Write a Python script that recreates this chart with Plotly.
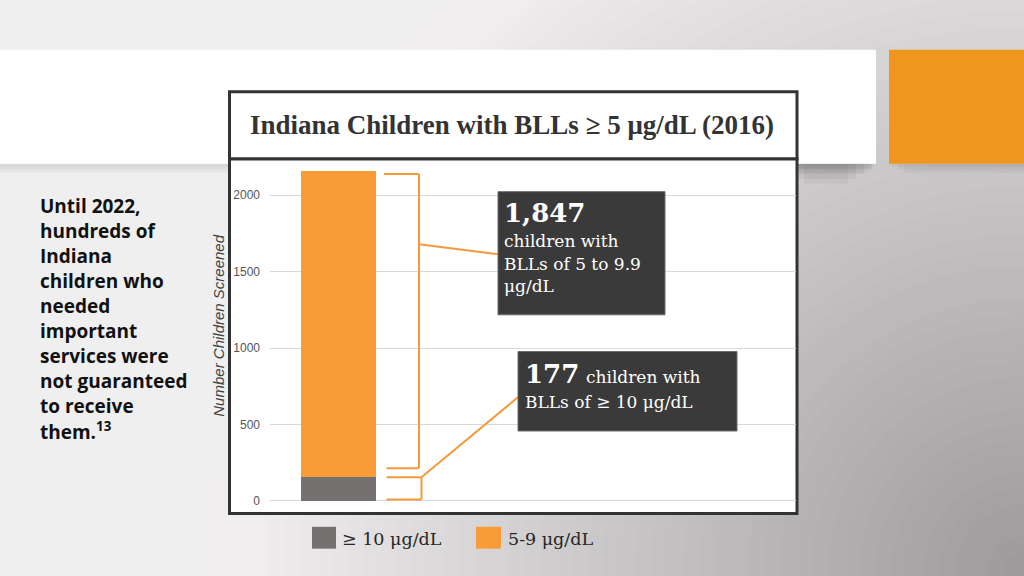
import plotly.graph_objects as go

# ---------------- data ----------------
categories = ["2016"]
blls_10_plus = [155]      # >= 10 ug/dL (grey segment)
blls_5_9 = [2000]         # 5-9 ug/dL (orange segment)
y_ticks = [0, 500, 1000, 1500, 2000]
series_names = ["≥ 10 μg/dL", "5-9 μg/dL"]
callout_5_9 = "1,847"
callout_10 = "177"
left_lines = ["Until 2022,", "hundreds of", "Indiana", "children who", "needed",
              "important", "services were", "not guaranteed", "to receive",
              "them.<sup>13</sup>"]

# ---------------- geometry helpers ----------------
W, H = 1024, 576
def px(x):
    return x / W
def py(y):
    return 1 - y / H

Y0 = 504.5      # pixel row of value 0
K = 0.154       # pixels per unit
def vpx(v):
    return Y0 - v * K

GREY = "#767171"
ORANGE = "#F99B36"
BRACKET = "#F59A3A"
DARK = "#3b3a3a"
SERIF = "DejaVu Serif"

fig = go.Figure()
fig.add_trace(go.Bar(x=categories, y=blls_10_plus, name=series_names[0],
                     marker=dict(color=GREY, line=dict(width=0)), width=1))
fig.add_trace(go.Bar(x=categories, y=blls_5_9, name=series_names[1],
                     marker=dict(color=ORANGE, line=dict(width=0)), width=1))

shapes = []
# radial background gradient (dark at bottom right)
cx, cy = 1024, 576
r = 820
step = 16
while r > 0:
    c = min(239, 155 + 0.108 * (r - step / 2))
    col = "rgb(%d,%d,%d)" % (round(c + 1), round(c - 1), round(c - 1))
    shapes.append(dict(type="circle", xref="paper", yref="paper", layer="below",
                       x0=px(cx - r), x1=px(cx + r), y0=py(cy + r), y1=py(cy - r),
                       fillcolor=col, line=dict(width=0)))
    r -= step

# shadow under white band
for i, a in enumerate([0.03, 0.03, 0.03]):
    shapes.append(dict(type="rect", xref="paper", yref="paper", layer="below",
                       x0=px(0), x1=px(874 - i * 3), y0=py(165 + 3 + i * 3), y1=py(165),
                       fillcolor="rgba(0,0,0,%.2f)" % a, line=dict(width=0)))
for i, a in enumerate([0.06, 0.06, 0.05, 0.04]):
    shapes.append(dict(type="rect", xref="paper", yref="paper", layer="below",
                       x0=px(780 + i * 8), x1=px(872 - i * 8), y0=py(165 + 5 + i * 5), y1=py(165),
                       fillcolor="rgba(0,0,0,%.2f)" % a, line=dict(width=0)))
for i, a in enumerate([0.04, 0.04, 0.03]):
    shapes.append(dict(type="rect", xref="paper", yref="paper", layer="below",
                       x0=px(892 + i * 6), x1=px(1024), y0=py(165 + 3 + i * 3), y1=py(165),
                       fillcolor="rgba(0,0,0,%.2f)" % a, line=dict(width=0)))
# white band + orange square
shapes.append(dict(type="rect", xref="paper", yref="paper", layer="below",
                   x0=px(0), x1=px(876), y0=py(165), y1=py(50),
                   fillcolor="white", line=dict(width=0)))
shapes.append(dict(type="rect", xref="paper", yref="paper", layer="below",
                   x0=px(889), x1=px(1024), y0=py(165), y1=py(50),
                   fillcolor="#EF961C", line=dict(width=0)))
# title box and chart box
shapes.append(dict(type="rect", xref="paper", yref="paper", layer="below",
                   x0=px(229.5), x1=px(797), y0=py(160), y1=py(92.5),
                   fillcolor="white", line=dict(color="#333333", width=3)))
shapes.append(dict(type="rect", xref="paper", yref="paper", layer="below",
                   x0=px(229.5), x1=px(797), y0=py(517), y1=py(160),
                   fillcolor="white", line=dict(color="#333333", width=3)))

# brackets (positions follow the bar values)
total = blls_10_plus[0] + blls_5_9[0]
up_top = vpx(total) + 2.5
up_bot = vpx(blls_10_plus[0]) - 9
lo_top = vpx(blls_10_plus[0])
lo_bot = vpx(0) - 1.5
def seg(x0, y0, x1, y1):
    shapes.append(dict(type="line", xref="paper", yref="paper", layer="above",
                       x0=px(x0), y0=py(y0), x1=px(x1), y1=py(y1),
                       line=dict(color=BRACKET, width=2)))
seg(384, up_top, 419, up_top)
seg(419, up_top, 419, up_bot)
seg(386.5, up_bot, 419, up_bot)
seg(386.5, lo_top, 421.5, lo_top)
seg(421.5, lo_top, 421.5, lo_bot)
seg(386.5, lo_bot, 421.5, lo_bot)
seg(419, 246, 498, 256)
seg(421.5, lo_top, 518, 400)

# callout boxes
shapes.append(dict(type="rect", xref="paper", yref="paper", layer="above",
                   x0=px(498), x1=px(665), y0=py(317), y1=py(193),
                   fillcolor=DARK, line=dict(color="#6a6a6a", width=1)))
shapes.append(dict(type="rect", xref="paper", yref="paper", layer="above",
                   x0=px(518), x1=px(737), y0=py(434), y1=py(354),
                   fillcolor=DARK, line=dict(color="#6a6a6a", width=1)))
# legend swatches
shapes.append(dict(type="rect", xref="paper", yref="paper", layer="above",
                   x0=px(312), x1=px(336), y0=py(552.5), y1=py(530.5),
                   fillcolor=GREY, line=dict(width=0)))
shapes.append(dict(type="rect", xref="paper", yref="paper", layer="above",
                   x0=px(476), x1=px(501), y0=py(552.5), y1=py(530.5),
                   fillcolor=ORANGE, line=dict(width=0)))

ann = []
def text(x, baseline, s, size, family, color, ascent=0.338, anchor="left", angle=0, style="normal"):
    ann.append(dict(x=px(x), y=py(baseline - ascent * size), xref="paper", yref="paper",
                    text=s, showarrow=False, xanchor=anchor, yanchor="middle",
                    textangle=angle, borderpad=0, borderwidth=0,
                    font=dict(size=size, family=family, color=color, style=style)))

# title
text(512, 135, "<b>Indiana Children with BLLs ≥ 5 μg/dL (2016)</b>", 27,
     "Liberation Serif", "#333333", anchor="center")
# left paragraph
for i, line in enumerate(left_lines):
    text(40, 215 + i * 25.2, "<b>%s</b>" % line, 19, "Open Sans", "#111111", ascent=0.389)
# callout 1
text(504, 223, "<b>%s</b>" % callout_5_9, 26, SERIF, "white", ascent=0.346)
text(504, 249, "children with", 17, SERIF, "white", ascent=0.346)
text(504, 272, "BLLs of 5 to 9.9", 17, SERIF, "white", ascent=0.346)
text(504, 293.5, "μg/dL", 17, SERIF, "white", ascent=0.346)
# callout 2
text(525, 385.5, "<b>%s</b>" % callout_10, 26, SERIF, "white", ascent=0.346)
text(586, 385.5, "children with", 17, SERIF, "white", ascent=0.346)
text(525, 411, "BLLs of ≥ 10 μg/dL", 17, SERIF, "white", ascent=0.346)
# legend text
text(342, 549, series_names[0], 17.5, SERIF, "#262626", ascent=0.346)
text(508, 549, series_names[1], 17.5, SERIF, "#262626", ascent=0.346)
# y-axis title
ann.append(dict(x=px(219), y=py(328), xref="paper", yref="paper",
                text="Number Children Screened", showarrow=False, textangle=-90,
                xanchor="center", yanchor="middle",
                font=dict(size=15, family="Liberation Sans", color="#404040", style="italic")))

x_left = -(338.7 - 270) / 75
fig.update_layout(
    width=W, height=H,
    margin=dict(l=0, r=0, t=0, b=0),
    paper_bgcolor="#efefef",
    plot_bgcolor="rgba(0,0,0,0)",
    barmode="stack",
    showlegend=False,
    shapes=shapes,
    annotations=ann,
    xaxis=dict(domain=[px(270), px(796)], range=[x_left, x_left + 526 / 75],
               visible=False, fixedrange=True),
    yaxis=dict(domain=[py(508), py(162)], range=[(Y0 - 508) / K, (Y0 - 162) / K],
               tickvals=y_ticks, ticktext=[str(v) for v in y_ticks],
               showgrid=True, gridcolor="#d9d9d9", gridwidth=1.2,
               zeroline=False, showline=False, ticks="", ticklabelstandoff=9,
               tickfont=dict(size=12, family="Liberation Sans Narrow, Liberation Sans",
                             color="#555555"),
               fixedrange=True),
)

fig.write_html("out.html", config={"displayModeBar": False},
               post_script="document.body.style.margin='0';document.body.style.overflow='hidden';")
